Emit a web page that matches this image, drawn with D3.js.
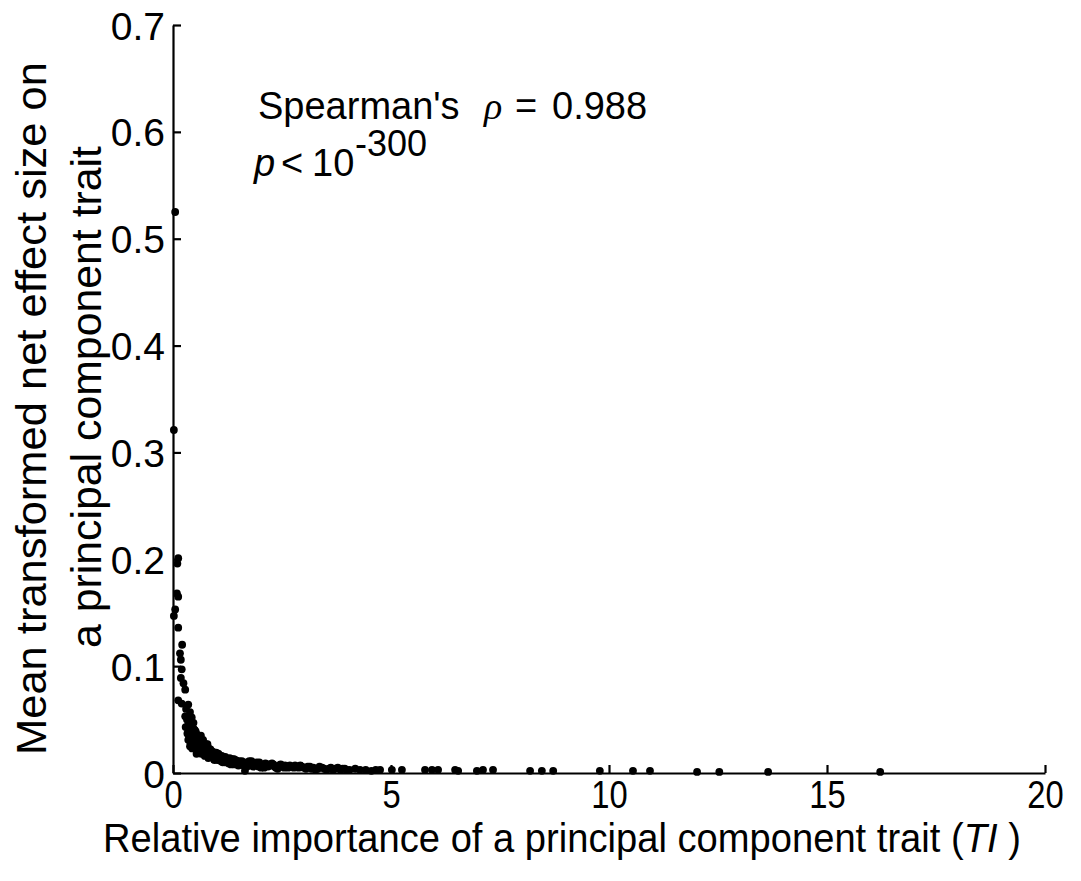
<!DOCTYPE html>
<html>
<head>
<meta charset="utf-8">
<script src="https://cdn.jsdelivr.net/npm/d3@7"></script>
<style>
  body { margin: 0; background: #fff; }
  text { font-family: "Liberation Sans", Arial, Helvetica, sans-serif; fill: #000; }
</style>
</head>
<body>
<svg id="chart" width="1081" height="881"></svg>
<script>
// Relative importance (TI) of each principal component trait
const tiValues = [
  0.05, 0.02, 0.12, 0.10, 0.09, 0.12, 0.05, 0.02, 0.12, 0.21, 0.16, 0.18, 0.20,
  0.18, 0.24, 0.28, 0.12, 0.20, 0.35, 0.39, 0.43, 0.28, 0.29, 0.47, 0.43, 0.54,
  0.30, 0.32, 0.34, 0.36, 0.38, 0.40, 0.41, 0.43, 0.44, 0.46, 0.47, 0.48, 0.49,
  0.50, 0.51, 0.52, 0.53, 0.54, 0.55, 0.56, 0.57, 0.58, 0.59, 0.60, 0.61, 0.62,
  0.63, 0.64, 0.66, 0.67, 0.68, 0.70, 0.71, 0.72, 0.74, 0.75, 0.77, 0.78, 0.80,
  0.82, 0.83, 0.85, 0.87, 0.88, 0.90, 0.92, 0.94, 0.96, 0.98, 1.00,
  0.37, 0.42, 0.45, 0.39, 0.52, 0.58, 0.65, 0.69, 0.73, 0.79,
  0.33, 0.35, 0.40, 0.44, 0.50, 0.56, 0.61, 0.64, 0.70, 0.76, 0.81, 0.86, 0.91,
  0.95, 0.99,
  1.02, 1.05, 1.08, 1.10, 1.13, 1.16, 1.19, 1.22, 1.25, 1.28, 1.31, 1.34, 1.38,
  1.41, 1.45, 1.48, 1.52, 1.56, 1.65, 1.64, 1.68, 1.72, 1.77, 1.82, 1.86, 1.91,
  1.96, 2.01, 2.06, 2.12, 2.18, 2.24, 2.30, 2.36, 2.43, 2.50, 2.57, 2.64, 2.72,
  2.80, 2.88, 2.96, 3.05, 3.14, 3.22, 3.32, 3.42, 3.52, 3.62, 3.72, 3.84, 3.94,
  1.04, 1.12, 1.20, 1.30, 1.36, 1.44, 1.50, 1.58, 1.70, 1.80, 1.92, 2.02, 2.15,
  2.27, 2.40, 2.55, 2.68, 2.85, 3.00, 3.18, 3.36, 3.58, 3.78, 3.98,
  1.06, 1.14, 1.18, 1.26, 1.33, 1.40, 1.47, 1.54, 1.62, 1.75, 1.84, 1.98, 2.09,
  2.21, 2.33, 2.47, 2.61, 2.77, 2.92, 3.09, 3.27, 3.47, 3.67, 3.89,
  4.05, 4.18, 4.29, 4.42, 4.55, 4.65, 4.75, 5.02, 5.25, 5.78, 5.94, 6.08, 6.47,
  6.54, 6.97, 7.11, 7.34, 8.19, 8.46, 8.72, 9.79, 10.55, 10.94, 12.02, 12.53,
  13.65, 16.22
];

// Mean transformed net effect size, same order as tiValues
const effectValues = [
  0.525, 0.321, 0.201, 0.196, 0.168, 0.165, 0.153, 0.147, 0.136, 0.120, 0.112, 0.106, 0.097,
  0.089, 0.084, 0.078, 0.068, 0.065, 0.064, 0.057, 0.052, 0.053, 0.043, 0.047, 0.026, 0.018,
  0.060, 0.050, 0.044, 0.040, 0.046, 0.037, 0.042, 0.034, 0.039, 0.030, 0.036, 0.041, 0.028,
  0.033, 0.025, 0.031, 0.037, 0.022, 0.029, 0.034, 0.026, 0.020, 0.031, 0.024, 0.028, 0.033,
  0.021, 0.026, 0.030, 0.023, 0.019, 0.027, 0.022, 0.025, 0.020, 0.017, 0.024, 0.021, 0.018,
  0.023, 0.016, 0.020, 0.015, 0.019, 0.017, 0.014, 0.018, 0.015, 0.013, 0.016,
  0.035, 0.030, 0.026, 0.025, 0.039, 0.035, 0.018, 0.031, 0.016, 0.027,
  0.037, 0.031, 0.028, 0.023, 0.040, 0.021, 0.019, 0.035, 0.020, 0.027, 0.014, 0.022, 0.020,
  0.012, 0.019,
  0.012, 0.015, 0.013, 0.011, 0.014, 0.012, 0.010, 0.013, 0.011, 0.009, 0.012, 0.010, 0.011,
  0.008, 0.010, 0.009, 0.011, 0.008, 0.002, 0.009, 0.010, 0.008, 0.009, 0.007, 0.009, 0.008,
  0.006, 0.008, 0.007, 0.009, 0.006, 0.007, 0.008, 0.005, 0.007, 0.006, 0.007, 0.005, 0.006,
  0.007, 0.005, 0.006, 0.004, 0.006, 0.005, 0.004, 0.005, 0.003, 0.005, 0.004, 0.003, 0.004,
  0.018, 0.016, 0.015, 0.014, 0.013, 0.012, 0.007, 0.011, 0.006, 0.011, 0.010, 0.005, 0.008,
  0.009, 0.004, 0.005, 0.007, 0.006, 0.005, 0.004, 0.006, 0.004, 0.005, 0.003,
  0.017, 0.010, 0.014, 0.013, 0.008, 0.013, 0.011, 0.010, 0.007, 0.011, 0.006, 0.010, 0.005,
  0.008, 0.006, 0.008, 0.006, 0.005, 0.007, 0.006, 0.003, 0.004, 0.003, 0.004,
  0.003, 0.004, 0.003, 0.003, 0.002, 0.003, 0.003, 0.003, 0.003, 0.003, 0.003, 0.003, 0.003,
  0.002, 0.002, 0.003, 0.003, 0.002, 0.002, 0.002, 0.002, 0.002, 0.002, 0.001, 0.001,
  0.001, 0.001
];

const xTickValues = [0, 5, 10, 15, 20];
const xTickLabels = ["0", "5", "10", "15", "20"];
const yTickValues = [0, 0.1, 0.2, 0.3, 0.4, 0.5, 0.6, 0.7];
const yTickLabels = ["0", "0.1", "0.2", "0.3", "0.4", "0.5", "0.6", "0.7"];

const xAxisTitleParts = [
  { text: "Relative importance of a principal component trait (", italic: false },
  { text: "TI", italic: true },
  { text: "\u00A0)", italic: false }
];
const yAxisTitleLines = ["Mean transformed net effect size on", "a principal component trait"];
const statRho = "0.988";
const statExponent = "-300";

const svg = d3.select("#chart");
const plot = { left: 173, right: 1045, top: 25, bottom: 773 };

const x = d3.scaleLinear().domain([0, 20]).range([plot.left, plot.right]);
const y = d3.scaleLinear().domain([0, 0.7]).range([plot.bottom, plot.top]);

// axes: inward ticks, no box
const xAxis = d3.axisBottom(x)
  .tickValues(xTickValues)
  .tickFormat((d, i) => xTickLabels[i])
  .tickSizeInner(-8).tickSizeOuter(0).tickPadding(7);
const yAxis = d3.axisLeft(y)
  .tickValues(yTickValues)
  .tickFormat((d, i) => yTickLabels[i])
  .tickSizeInner(-8).tickSizeOuter(0).tickPadding(8);

const gx = svg.append("g").attr("transform", `translate(0,${plot.bottom})`).call(xAxis);
const gy = svg.append("g").attr("transform", `translate(${plot.left},0)`).call(yAxis);

[gx, gy].forEach(g => {
  g.select(".domain").attr("stroke", "#000").attr("stroke-width", 2.2);
  g.selectAll(".tick line").attr("stroke", "#000").attr("stroke-width", 2.2);
  g.selectAll(".tick text").attr("font-family", "Liberation Sans, Arial, sans-serif").attr("fill", "#000");
});

// condensed numerals under the x axis
gx.selectAll(".tick text")
  .attr("font-size", 39)
  .attr("dy", "0.71em")
  .attr("transform", "scale(0.84,1)");

gy.selectAll(".tick text")
  .attr("font-size", 39)
  .attr("dy", "0.36em");

// points
svg.append("g")
  .selectAll("circle")
  .data(tiValues.map((t, i) => ({ ti: t, effect: effectValues[i] })))
  .join("circle")
  .attr("cx", d => x(d.ti))
  .attr("cy", d => y(d.effect))
  .attr("r", 3.9)
  .attr("fill", "#000");

// x-axis title: pieces laid out side by side, then condensed to the target width
const xTitle = svg.append("g");
let cursor = 0;
xAxisTitleParts.forEach(part => {
  const t = xTitle.append("text")
    .attr("x", cursor).attr("y", 0)
    .attr("font-size", 40)
    .attr("font-style", part.italic ? "italic" : "normal")
    .text(part.text);
  cursor += t.node().getComputedTextLength();
});
const xTitleScale = 918 / cursor;
xTitle.attr("transform", `translate(103,852) scale(${xTitleScale},1)`);

// y-axis title, two lines
svg.append("text")
  .attr("transform", "translate(46,755) rotate(-90)")
  .attr("font-size", 42)
  .attr("textLength", 693)
  .attr("lengthAdjust", "spacingAndGlyphs")
  .text(yAxisTitleLines[0]);
svg.append("text")
  .attr("transform", "translate(101,648) rotate(-90)")
  .attr("font-size", 42)
  .attr("textLength", 502)
  .attr("lengthAdjust", "spacingAndGlyphs")
  .text(yAxisTitleLines[1]);

// Spearman annotation
const s1 = svg.append("text").attr("x", 258).attr("y", 119).attr("font-size", 38);
s1.append("tspan").text("Spearman's");
s1.append("tspan").attr("x", 484).attr("font-family", "Liberation Serif, Times New Roman, serif")
  .attr("font-style", "italic").text("ρ");
s1.append("tspan").attr("x", 515).text("=");
s1.append("tspan").attr("x", 552).text(statRho);

const s2 = svg.append("text").attr("x", 254).attr("y", 176).attr("font-size", 38);
s2.append("tspan").attr("font-style", "italic").text("p");
s2.append("tspan").attr("x", 281).text("<");
s2.append("tspan").attr("x", 312).text("10");
s2.append("tspan").attr("x", 355).attr("y", 156).attr("font-size", 36).text(statExponent);
</script>
</body>
</html>
